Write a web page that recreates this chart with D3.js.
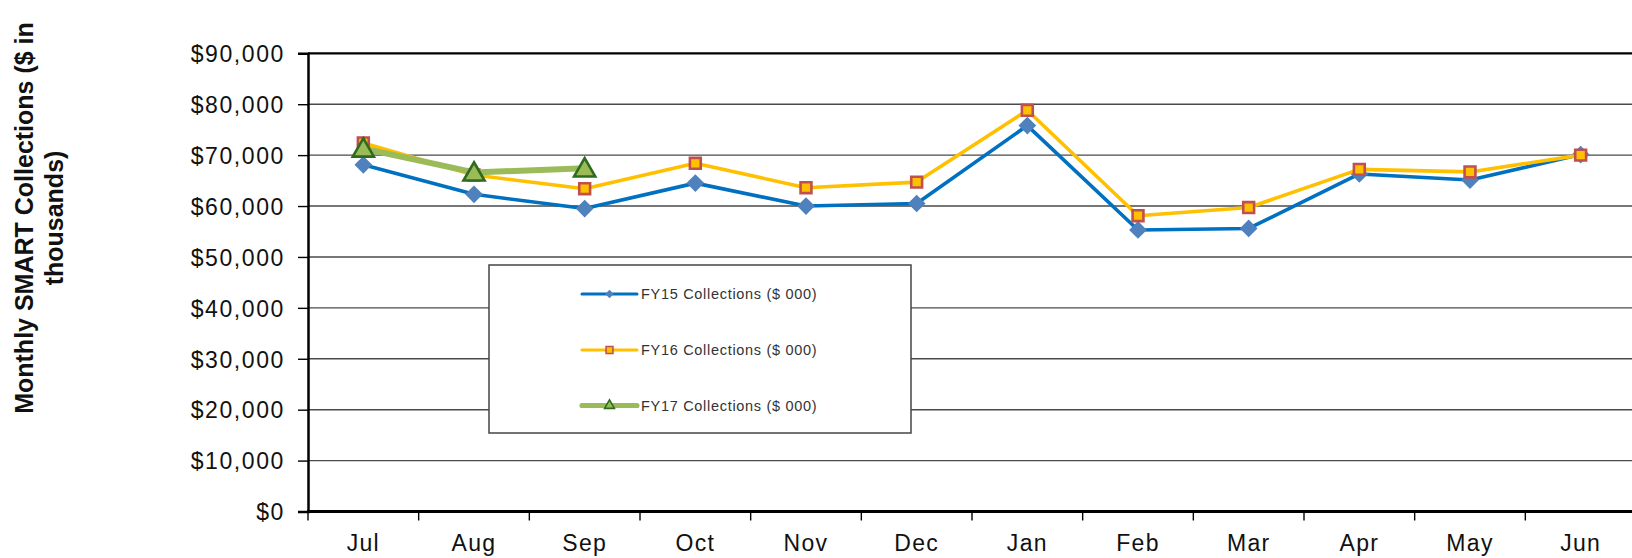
<!DOCTYPE html>
<html>
<head>
<meta charset="utf-8">
<style>
  body { margin: 0; background: #fff; }
  text { font-family: "Liberation Sans", Arial, sans-serif; }
</style>
</head>
<body>
<svg id="chart"></svg>
<script src="https://cdn.jsdelivr.net/npm/d3@7/dist/d3.min.js"></script>
<script>
// data
var months = ["Jul", "Aug", "Sep", "Oct", "Nov", "Dec", "Jan", "Feb", "Mar", "Apr", "May", "Jun"];
var fy15 = [68100, 62300, 59500, 64500, 60000, 60500, 75800, 55300, 55600, 66300, 65100, 70100];
var fy16 = [72400, 66100, 63400, 68400, 63600, 64700, 78800, 58100, 59700, 67200, 66700, 70000];
var fy17 = [71300, 66600, 67400];
var yTicks = [0, 10000, 20000, 30000, 40000, 50000, 60000, 70000, 80000, 90000];
var seriesNames = ["FY15 Collections ($ 000)", "FY16 Collections ($ 000)", "FY17 Collections ($ 000)"];

var W = 1632, H = 558;
var plotL = 308, plotT = 53.3, plotR = 1636, plotB = 511.5;

var svg = d3.select("#chart").attr("width", W).attr("height", H);

var x = d3.scaleBand().domain(months).range([plotL, plotR]);
var y = d3.scaleLinear().domain([0, 90000]).range([plotB, plotT]);

// gridlines
svg.append("g").selectAll("line")
  .data(yTicks.slice(1, -1))
  .enter().append("line")
  .attr("x1", plotL).attr("x2", plotR)
  .attr("y1", function(d){ return y(d); })
  .attr("y2", function(d){ return y(d); })
  .attr("stroke", "#4a4a4a").attr("stroke-width", 1.4);

// top border
svg.append("line")
  .attr("x1", plotL).attr("x2", plotR).attr("y1", plotT).attr("y2", plotT)
  .attr("stroke", "#000").attr("stroke-width", 2.2);

// y axis
var yAxis = d3.axisLeft(y).tickValues(yTicks).tickSize(10).tickPadding(13)
  .tickFormat(function(d){ return "$" + d3.format(",")(d); });
var gy = svg.append("g").attr("transform", "translate(" + plotL + ",0)").call(yAxis);
gy.select(".domain").attr("stroke", "#000").attr("stroke-width", 2.5);
gy.selectAll(".tick line").attr("stroke", "#000").attr("stroke-width", 1.4);
gy.selectAll(".tick text")
  .style("font-size", "23px").style("letter-spacing", "1.6px")
  .attr("fill", "#111").attr("dy", "0.36em");

// x axis, ticks between categories
var xAxis = d3.axisBottom(x).tickSize(0).tickPadding(23);
var gx = svg.append("g").attr("transform", "translate(0," + plotB + ")").call(xAxis);
gx.select(".domain").remove();
gx.selectAll(".tick text")
  .style("font-size", "23px").style("letter-spacing", "1.3px")
  .attr("fill", "#111");
svg.append("g").selectAll("line")
  .data(months)
  .enter().append("line")
  .attr("x1", function(d){ return x(d); })
  .attr("x2", function(d){ return x(d); })
  .attr("y1", plotB).attr("y2", plotB + 9)
  .attr("stroke", "#000").attr("stroke-width", 1.4);
svg.append("line")
  .attr("x1", plotL - 1).attr("x2", plotR).attr("y1", plotB).attr("y2", plotB)
  .attr("stroke", "#000").attr("stroke-width", 3);

// y title
var title = svg.append("text")
  .attr("transform", "translate(33,218) rotate(-90)")
  .attr("text-anchor", "middle")
  .style("font-size", "25px").style("font-weight", "bold").attr("fill", "#111");
title.append("tspan").attr("x", 0).attr("y", 0).text("Monthly SMART Collections ($ in");
title.append("tspan").attr("x", 0).attr("y", 30).text("thousands)");

var cx = function(i){ return x(months[i]) + x.bandwidth() / 2; };
var line = d3.line().x(function(d, i){ return cx(i); }).y(function(d){ return y(d); });

var diamond = d3.symbol().type(d3.symbolDiamond2);
var square = d3.symbol().type(d3.symbolSquare2);
var triangle = d3.symbol().type(d3.symbolTriangle2);

var series = [
  { vals: fy15, color: "#0070c0", width: 3.6, sym: diamond, size: 200, msize: 45, fill: "#4f81bd", stroke: "none", sw: 0 },
  { vals: fy16, color: "#ffc000", width: 3.6, sym: square, size: 150, msize: 60, fill: "#ffc000", stroke: "#c0504d", sw: 2.6 },
  { vals: fy17, color: "#9bbb59", width: 6, sym: triangle, size: 320, msize: 70, fill: "#9bbb59", stroke: "#2f6b1e", sw: 2.6 }
];

series.forEach(function(s){
  svg.append("path").datum(s.vals)
    .attr("d", line).attr("fill", "none")
    .attr("stroke", s.color).attr("stroke-width", s.width)
    .attr("stroke-linejoin", "round");
  svg.append("g").selectAll("path")
    .data(s.vals)
    .enter().append("path")
    .attr("d", s.sym.size(s.size))
    .attr("transform", function(d, i){
      var dy = s.sym === triangle ? 2 : 0;
      return "translate(" + cx(i) + "," + (y(d) + dy) + ")";
    })
    .attr("fill", s.fill).attr("stroke", s.stroke).attr("stroke-width", s.sw);
});

// legend
var lg = svg.append("g");
lg.append("rect")
  .attr("x", 489).attr("y", 265).attr("width", 422).attr("height", 168)
  .attr("fill", "#fff").attr("stroke", "#444").attr("stroke-width", 1.5);
var rows = [294, 350, 405.5];
series.forEach(function(s, i){
  lg.append("line")
    .attr("x1", 582).attr("x2", 637).attr("y1", rows[i]).attr("y2", rows[i])
    .attr("stroke", s.color).attr("stroke-width", s.width * 0.85).attr("stroke-linecap", "round");
  lg.append("path")
    .attr("d", s.sym.size(s.msize))
    .attr("transform", "translate(609.5," + rows[i] + ")")
    .attr("fill", s.fill).attr("stroke", s.stroke).attr("stroke-width", s.sw * 0.6);
  lg.append("text")
    .attr("x", 641).attr("y", rows[i]).attr("dy", "0.36em")
    .style("font-size", "14.5px").style("letter-spacing", "0.7px")
    .attr("fill", "#333").text(seriesNames[i]);
});
</script>
</body>
</html>
